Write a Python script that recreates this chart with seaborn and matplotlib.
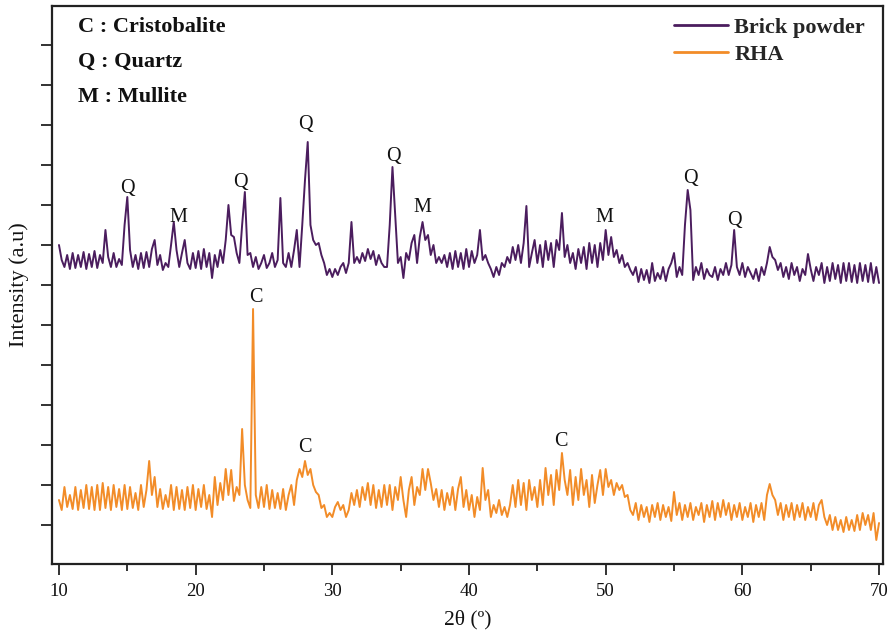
import numpy as np
import pandas as pd
import matplotlib
matplotlib.use("Agg")
import matplotlib.pyplot as plt
import seaborn as sns

# 2-theta grid (degrees), 0.2 deg step from 10 to 70
two_theta = [round(10 + 0.2 * i, 1) for i in range(301)]

# Brick powder intensity (a.u., offset trace)
brick = [
    280, 265, 258, 270, 256,
    272, 257, 270, 258, 273,
    256, 271, 258, 274, 257,
    270, 262, 295, 268, 258,
    272, 258, 266, 260, 300,
    328, 275, 258, 270, 256,
    272, 257, 273, 258, 276,
    285, 260, 270, 255, 262,
    258, 280, 303, 275, 258,
    272, 285, 262, 256, 272,
    257, 274, 256, 276, 258,
    272, 247, 270, 258, 275,
    262, 285, 320, 290, 288,
    272, 262, 300, 333, 270,
    272, 258, 268, 256, 262,
    270, 257, 262, 272, 258,
    265, 327, 262, 258, 272,
    258, 275, 295, 258, 300,
    345, 383, 300, 285, 280,
    282, 270, 262, 250, 256,
    248, 256, 250, 258, 262,
    252, 262, 303, 262, 268,
    262, 272, 264, 276, 266,
    274, 260, 270, 262, 258,
    258, 300, 358, 310, 262,
    268, 247, 272, 265, 282,
    290, 262, 288, 303, 285,
    290, 270, 280, 262, 268,
    262, 270, 258, 272, 256,
    274, 258, 272, 256, 276,
    258, 274, 262, 270, 295,
    265, 270, 262, 256, 248,
    258, 250, 262, 258, 268,
    262, 278, 265, 280, 262,
    282, 319, 258, 272, 285,
    262, 280, 258, 284, 265,
    282, 258, 285, 275, 312,
    268, 280, 262, 272, 256,
    276, 262, 278, 256, 282,
    262, 280, 258, 282, 265,
    295, 270, 288, 268, 275,
    262, 270, 258, 262, 255,
    250, 258, 243, 256, 245,
    255, 242, 262, 244, 252,
    246, 258, 244, 256, 262,
    272, 248, 258, 250, 300,
    335, 315, 245, 258, 250,
    262, 246, 256, 250, 248,
    258, 245, 256, 250, 262,
    250, 260, 295, 258, 250,
    262, 248, 258, 252, 246,
    256, 244, 258, 250, 262,
    278, 268, 265, 255, 262,
    248, 258, 246, 262, 250,
    258, 244, 256, 250, 271,
    256, 244, 258, 250, 262,
    242, 258, 244, 262, 246,
    260, 242, 262, 244, 262,
    243, 260, 242, 262, 244,
    260, 243, 262, 242, 258,
    242,
]

# Rice husk ash (RHA) intensity (a.u.)
rha = [
    25, 15, 38, 18, 30,
    16, 38, 15, 35, 17,
    40, 16, 38, 15, 40,
    15, 42, 17, 38, 15,
    40, 18, 36, 15, 40,
    16, 38, 17, 32, 15,
    40, 18, 35, 64, 30,
    48, 18, 36, 16, 30,
    18, 40, 15, 38, 16,
    35, 15, 38, 17, 40,
    15, 36, 18, 40, 16,
    30, 8, 48, 20, 42,
    25, 56, 30, 55, 24,
    38, 30, 96, 40, 25,
    17, 216, 30, 17, 38,
    18, 40, 16, 35, 17,
    32, 16, 36, 15, 30,
    40, 20, 45, 56, 48,
    64, 50, 56, 40, 33,
    30, 17, 20, 8, 12,
    8, 18, 23, 15, 20,
    8, 15, 32, 20, 35,
    18, 38, 25, 42, 20,
    40, 17, 35, 18, 40,
    20, 40, 15, 38, 25,
    48, 25, 8, 35, 48,
    20, 38, 30, 56, 35,
    56, 42, 25, 36, 18,
    35, 15, 32, 20, 38,
    15, 36, 48, 18, 35,
    15, 30, 8, 28, 15,
    57, 25, 35, 8, 20,
    12, 25, 10, 18, 8,
    20, 40, 18, 45, 20,
    42, 15, 45, 25, 38,
    18, 45, 20, 57, 30,
    50, 20, 55, 35, 72,
    45, 30, 55, 20, 48,
    25, 56, 30, 45, 18,
    50, 22, 40, 55, 30,
    56, 38, 45, 30, 42,
    35, 40, 28, 30, 15,
    10, 22, 5, 20, 8,
    18, 3, 20, 8, 22,
    5, 20, 8, 18, 4,
    33, 10, 22, 5, 20,
    8, 22, 5, 18, 10,
    22, 3, 20, 8, 24,
    5, 22, 8, 25, 10,
    22, 5, 20, 8, 22,
    5, 18, 8, 22, 3,
    20, 8, 22, 5, 30,
    41, 30, 25, 10, 22,
    5, 20, 8, 22, 5,
    20, 8, 22, 5, 18,
    8, 22, 5, 20, 25,
    8, 0, 10, -5, 8,
    -5, 5, -7, 8, -5,
    5, -6, 10, -5, 12,
    0, 10, -5, 12, -15,
    2,
]

series_names = ["Brick powder", "RHA"]
series_colors = ["#4b1d5e", "#f28c28"]

# Phase labels: (x, y, text)
peak_labels_x = [15.0, 18.7, 23.3, 28.05, 34.5, 36.6, 49.9, 56.2, 59.45, 24.4, 28.0, 46.75]
peak_labels_y = [337, 307, 342, 400, 368, 317, 307, 347, 305, 228, 78, 83]
peak_labels_t = ["Q", "M", "Q", "Q", "Q", "M", "M", "Q", "Q", "C", "C", "C"]

legend_notes = ["C : Cristobalite", "Q : Quartz", "M : Mullite"]

xticks = [10, 20, 30, 40, 50, 60, 70]

df = pd.concat([
    pd.DataFrame({"two_theta": two_theta, "intensity": brick, "sample": series_names[0]}),
    pd.DataFrame({"two_theta": two_theta, "intensity": rha, "sample": series_names[1]}),
], ignore_index=True)

sns.set_theme(style="ticks")
plt.rcParams["font.family"] = ["Liberation Serif", "DejaVu Serif"]
plt.rcParams["mathtext.fontset"] = "stix"

fig = plt.figure(figsize=(8.91, 6.38), dpi=100)
ax = fig.add_axes([52 / 891, 1 - 564 / 638, (883 - 52) / 891, (564 - 6) / 638])

sns.lineplot(data=df, x="two_theta", y="intensity", hue="sample",
             palette=dict(zip(series_names, series_colors)),
             estimator=None, sort=False, linewidth=1.4, ax=ax)

ax.set_xlim(9.49, 70.29)
ax.set_ylim(-39, 519)
ax.set_xticks(xticks)
ax.set_xticks([15, 25, 35, 45, 55, 65], minor=True)
ax.set_yticks(list(range(0, 481, 40)))
ax.set_yticklabels([])
ax.tick_params(axis="both", which="major", direction="out", length=8, width=1.3,
               color="#222222")
ax.tick_params(axis="x", which="minor", direction="out", length=5, width=1.3,
               color="#222222")
ax.tick_params(axis="x", labelsize=13.5, pad=6, labelcolor="#111111")
for s in ax.spines.values():
    s.set_linewidth(1.6)
    s.set_color("#222222")

ax.set_xlabel("2θ (º)", fontsize=15.5, labelpad=7, color="#111111")
ax.set_ylabel("Intensity (a.u)", fontsize=16, labelpad=5, color="#111111")

for x, y, t in zip(peak_labels_x, peak_labels_y, peak_labels_t):
    ax.text(x, y, t, fontsize=14.5, ha="center", va="center", color="#111111")

for i, note in enumerate(legend_notes):
    fig.text(78 / 891, 1 - (27 + 35 * i) / 638, note, fontsize=16,
             fontweight="bold", ha="left", va="center", color="#111111")

handles, labels = ax.get_legend_handles_labels()
leg = ax.legend(handles, labels, loc="upper right",
                bbox_to_anchor=(865 / 891, 1 - 17 / 638),
                bbox_transform=fig.transFigure, frameon=False,
                prop={"weight": "bold", "size": 16}, handlelength=2.4,
                handletextpad=0.3, labelspacing=0.3, borderpad=0, borderaxespad=0)
for line in leg.get_lines():
    line.set_linewidth(2.0)

fig.savefig("out.png", dpi=100)
